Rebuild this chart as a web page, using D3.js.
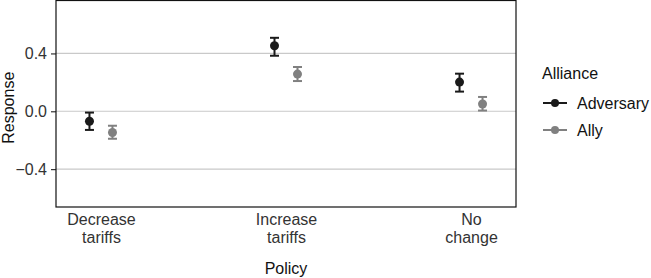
<!DOCTYPE html>
<html>
<head>
<meta charset="utf-8">
<script src="https://cdn.jsdelivr.net/npm/d3@7"></script>
<style>
  body { margin: 0; background: #fff; }
  svg { display: block; font-family: "Liberation Sans", Arial, sans-serif; }
</style>
</head>
<body>
<svg width="651" height="278"></svg>
<script>
// Data
const policies = ["Decrease tariffs", "Increase tariffs", "No change"];
const policyLines = [["Decrease", "tariffs"], ["Increase", "tariffs"], ["No", "change"]];
const alliances = ["Adversary", "Ally"];
const allianceColors = ["#1a1a1a", "#808080"];
const adversaryMean = [-0.069, 0.453, 0.202];
const adversaryLow = [-0.129, 0.384, 0.136];
const adversaryHigh = [-0.009, 0.508, 0.260];
const allyMean = [-0.147, 0.257, 0.050];
const allyLow = [-0.190, 0.209, 0.005];
const allyHigh = [-0.100, 0.306, 0.099];
const yTicks = [-0.4, 0.0, 0.4];

// Tabel til tegning
const rows = [];
policies.forEach((p, i) => {
  rows.push({ policy: p, alliance: "Adversary", mean: adversaryMean[i], low: adversaryLow[i], high: adversaryHigh[i] });
  rows.push({ policy: p, alliance: "Ally", mean: allyMean[i], low: allyLow[i], high: allyHigh[i] });
});

// Dimensioner
const panel = { left: 56, right: 516, top: 0.5, bottom: 207 };
const fontSize = 16;
const svg = d3.select("svg");

// Skaler
const x = d3.scalePoint()
  .domain(policies)
  .range([panel.left, panel.right])
  .padding(0.243);

const dodge = d3.scalePoint()
  .domain(alliances)
  .range([-11.5, 11.5]);

const y = d3.scaleLinear()
  .domain([-0.662, 0.766])
  .range([panel.bottom, panel.top]);

const color = d3.scaleOrdinal().domain(alliances).range(allianceColors);

// Gitterlinjer
svg.append("g")
  .selectAll("line")
  .data(yTicks)
  .join("line")
  .attr("x1", panel.left)
  .attr("x2", panel.right)
  .attr("y1", d => y(d))
  .attr("y2", d => y(d))
  .attr("stroke", "#c9c9c9")
  .attr("stroke-width", 1.2);

// Y-akse
const yAxis = svg.append("g")
  .attr("transform", `translate(${panel.left},0)`)
  .call(d3.axisLeft(y).tickValues(yTicks).tickSize(5).tickPadding(4)
    .tickFormat(d => d3.format(".1f")(d).replace("-", "\u2212")));
yAxis.select(".domain").remove();
yAxis.selectAll(".tick line").attr("stroke", "#333").attr("stroke-width", 1.2);
yAxis.selectAll(".tick text")
  .attr("fill", "#333")
  .attr("font-size", fontSize)
  .attr("font-family", "Liberation Sans, Arial, sans-serif");

// X-akse
const xAxis = svg.append("g")
  .attr("transform", `translate(0,${panel.bottom})`)
  .call(d3.axisBottom(x).tickSize(0).tickFormat(""));
xAxis.select(".domain").remove();
xAxis.selectAll(".tick").each(function (d, i) {
  const t = d3.select(this).append("text")
    .attr("fill", "#333")
    .attr("font-size", fontSize)
    .attr("font-family", "Liberation Sans, Arial, sans-serif")
    .attr("text-anchor", "middle");
  policyLines[i].forEach((s, j) => {
    t.append("tspan").attr("x", 0).attr("y", 18 + j * 18).text(s);
  });
});

// Panelramme
svg.append("rect")
  .attr("x", panel.left)
  .attr("y", panel.top)
  .attr("width", panel.right - panel.left)
  .attr("height", panel.bottom - panel.top)
  .attr("fill", "none")
  .attr("stroke", "#111")
  .attr("stroke-width", 1.2);

// Fejlsøjler og punkter
const g = svg.append("g")
  .selectAll("g")
  .data(rows)
  .join("g")
  .attr("transform", d => `translate(${x(d.policy) + dodge(d.alliance)},0)`)
  .attr("stroke", d => color(d.alliance))
  .attr("fill", d => color(d.alliance));

g.append("line")
  .attr("y1", d => y(d.low))
  .attr("y2", d => y(d.high))
  .attr("stroke-width", 2);
g.append("line")
  .attr("x1", -4.5).attr("x2", 4.5)
  .attr("y1", d => y(d.low)).attr("y2", d => y(d.low))
  .attr("stroke-width", 2);
g.append("line")
  .attr("x1", -4.5).attr("x2", 4.5)
  .attr("y1", d => y(d.high)).attr("y2", d => y(d.high))
  .attr("stroke-width", 2);
g.append("circle")
  .attr("cy", d => y(d.mean))
  .attr("r", 4.5)
  .attr("stroke", "none");

// Aksetitler
svg.append("text")
  .attr("x", (panel.left + panel.right) / 2)
  .attr("y", 274)
  .attr("text-anchor", "middle")
  .attr("font-size", fontSize)
  .attr("fill", "#111")
  .text("Policy");

svg.append("text")
  .attr("transform", `translate(14,${(panel.top + panel.bottom) / 2 + 4}) rotate(-90)`)
  .attr("text-anchor", "middle")
  .attr("font-size", fontSize)
  .attr("fill", "#111")
  .text("Response");

// Forklaring
const legend = svg.append("g").attr("transform", "translate(542,0)");
legend.append("text")
  .attr("x", 0).attr("y", 79)
  .attr("font-size", fontSize)
  .attr("fill", "#111")
  .text("Alliance");

const item = legend.selectAll(".item")
  .data(alliances)
  .join("g")
  .attr("class", "item")
  .attr("transform", (d, i) => `translate(0,${103 + i * 27})`);
item.append("line")
  .attr("x1", 1).attr("x2", 25)
  .attr("stroke", d => color(d))
  .attr("stroke-width", 2);
item.append("circle")
  .attr("cx", 13)
  .attr("r", 4)
  .attr("fill", d => color(d));
item.append("text")
  .attr("x", 35).attr("y", 5.5)
  .attr("font-size", fontSize)
  .attr("fill", "#111")
  .text(d => d);
</script>
</body>
</html>
